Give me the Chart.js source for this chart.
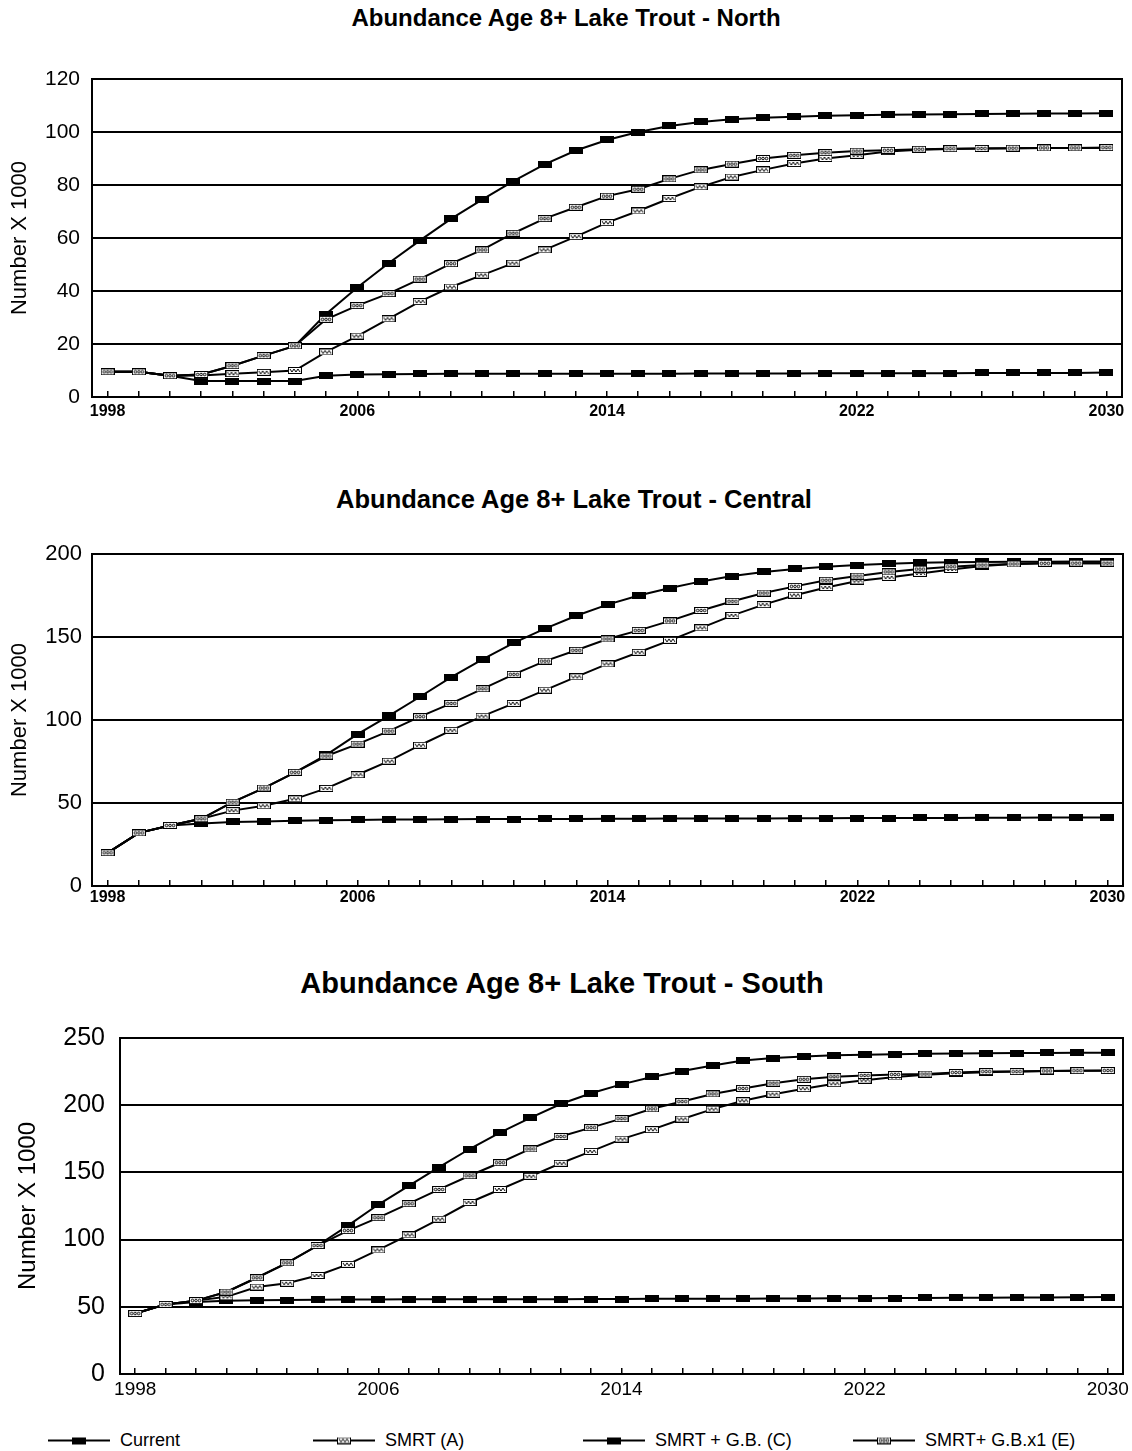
<!DOCTYPE html>
<html>
<head>
<meta charset="utf-8">
<title>Abundance Age 8+ Lake Trout</title>
<script src="https://cdn.jsdelivr.net/npm/chart.js@4.4.0/dist/chart.umd.min.js"></script>
<style>
  body { margin: 0; background: #fff; }
  #page { position: relative; width: 1132px; height: 1451px; background: #fff; overflow: hidden;
          font-family: "Liberation Sans", Arial, sans-serif; color: #000; }
  .panel { position: absolute; left: 0; }
  .panel-title { position: absolute; width: 1132px; text-align: center; font-weight: bold;
                 white-space: nowrap; line-height: 1; transform: translateY(-50%); }
  .legend-item { position: absolute; display: flex; align-items: center; font-size: 18px;
                 white-space: nowrap; transform: translateY(-50%); }
  .legend-item canvas { margin-right: 10px; }
</style>
</head>
<body>
<div id="page"></div>
<script>
// years on the x axis, labelled every 8 years
const years = [1998, 1999, 2000, 2001, 2002, 2003, 2004, 2005, 2006, 2007, 2008,
  2009, 2010, 2011, 2012, 2013, 2014, 2015, 2016, 2017, 2018, 2019, 2020,
  2021, 2022, 2023, 2024, 2025, 2026, 2027, 2028, 2029, 2030];

const seriesNames = ['Current', 'SMRT (A)', 'SMRT + G.B. (C)', 'SMRT+ G.B.x1 (E)'];

// North (number x 1000)
const northCurrent = [9.5, 9.5, 8, 6, 6, 6, 6, 8, 8.5, 8.6, 8.7, 8.8, 8.8, 8.8, 8.8, 8.8, 8.8,
  8.8, 8.8, 8.9, 8.9, 8.9, 8.9, 9, 9, 9, 9, 9, 9.1, 9.1, 9.1, 9.1, 9.2];
const northA = [9.5, 9.5, 8, 8.1, 8.8, 9.3, 10, 17, 23, 29.5, 36, 41.5, 46, 50.5, 55.5, 60.5, 65.8,
  70.2, 74.9, 79.3, 83, 85.7, 88.1, 90, 91.2, 92.6, 93.3, 93.6, 93.8, 93.9, 94, 94, 94.1];
const northC = [9.5, 9.5, 8, 8.5, 11.8, 15.6, 19.3, 31.3, 41.3, 50.5, 59, 67.2, 74.5, 81.5, 87.8, 93, 97,
  100, 102.3, 103.8, 104.8, 105.4, 105.8, 106.1, 106.3, 106.5, 106.6, 106.7, 106.8, 106.9, 107, 107, 107.1];
const northE = [9.5, 9.5, 8, 8.5, 11.8, 15.6, 19.3, 29.3, 34.5, 39, 44.5, 50.3, 55.5, 61.8, 67.3, 71.6, 75.8,
  78.4, 82.3, 85.7, 87.9, 90, 91.2, 92.2, 92.8, 93.1, 93.5, 93.7, 93.8, 93.9, 94, 94, 94.1];

// Central
const centralCurrent = [20, 32, 36.5, 37.7, 38.6, 38.9, 39.3, 39.6, 39.8, 40, 40.1, 40.2, 40.3, 40.3, 40.4, 40.4, 40.5,
  40.5, 40.6, 40.6, 40.7, 40.7, 40.8, 40.8, 40.9, 40.9, 41, 41, 41.1, 41.1, 41.2, 41.2, 41.3];
const centralA = [20, 32, 36.5, 40.5, 45.4, 48.3, 52.5, 58.8, 67, 75.2, 84.8, 93.8, 102.3, 110, 118, 126, 133.8,
  140.8, 148, 155.5, 163, 169.5, 175.2, 179.8, 183.7, 185.9, 188.3, 190.7, 192.7, 194, 194.4, 194.5, 194.5];
const centralC = [20, 32, 36.5, 40.5, 50.5, 59, 68.5, 79, 91.5, 102.5, 114, 125.8, 136.5, 146.5, 155, 162.8, 169.5,
  175, 179.5, 183.5, 186.7, 189.2, 191, 192.3, 193.3, 194.1, 194.7, 195, 195.2, 195.3, 195.4, 195.5, 195.5];
const centralE = [20, 32, 36.5, 40.5, 50.5, 59, 68.5, 78.3, 85.5, 93.3, 102, 110, 118.8, 127.5, 135.5, 142, 148.8,
  154, 159.7, 166, 171.5, 176.5, 180.5, 184.2, 186.7, 189.2, 190.9, 192.3, 193.3, 194, 194.4, 194.5, 194.5];

// South
const southCurrent = [45, 51.8, 53.5, 54.5, 54.8, 55, 55.2, 55.5, 55.5, 55.6, 55.6, 55.6, 55.6, 55.7, 55.7, 55.8, 55.8,
  55.9, 55.9, 56, 56, 56.1, 56.2, 56.3, 56.4, 56.5, 56.6, 56.7, 56.8, 56.9, 57, 57.1, 57.2];
const southA = [45, 51.8, 54.6, 57.4, 64.7, 67.5, 73.3, 81.6, 92.3, 103.5, 115.2, 127.6, 137.3, 147.1, 156.8, 165.6, 174.8,
  181.8, 189.7, 197.1, 203.3, 208.2, 212.3, 216, 218.6, 221, 222.7, 223.8, 224.5, 225, 225.4, 225.6, 225.7];
const southC = [45, 51.8, 54.6, 61, 71.6, 82.7, 95.6, 110.4, 126.1, 139.9, 153.9, 167.4, 179.6, 190.6, 200.9, 208.9, 215.5,
  221, 225.4, 229.6, 233.3, 235.1, 236.2, 237.1, 237.6, 238, 238.3, 238.5, 238.7, 238.8, 238.9, 239, 239.1];
const southE = [45, 51.8, 54.6, 61, 71.6, 82.7, 95.6, 106.7, 116.3, 126.7, 137.3, 147.5, 157.2, 167.5, 176.7, 183.3, 190,
  197.3, 202.7, 208.4, 212.5, 216.4, 219.3, 221.2, 222.1, 222.8, 223.2, 224.3, 225, 225, 225.5, 225.7, 225.8];

Chart.defaults.font.family = '"Liberation Sans", Arial, sans-serif';
Chart.defaults.color = '#000';

const Abundance = {
  markers: {},

  panels: [
    { name: 'North', titleX: 566, titleY: 18, titleSize: 24, top: 40, height: 400,
      area: { left: 92, top: 79, right: 1122, bottom: 397 }, max: 120, step: 20,
      yFont: 21, yPad: 12, yTitleSize: 22, yTitlePad: 7, xFont: 16, xBold: true, xPad: 11,
      series: [northCurrent, northA, northC, northE] },
    { name: 'Central', titleX: 574, titleY: 500, titleSize: 25.5, top: 520, height: 400,
      area: { left: 92, top: 554, right: 1129, bottom: 886 }, max: 200, step: 50,
      yFont: 22, yPad: 10, yTitleSize: 22, yTitlePad: 7, xFont: 16, xBold: true, xPad: 8,
      series: [centralCurrent, centralA, centralC, centralE] },
    { name: 'South', titleX: 562, titleY: 983, titleSize: 29, top: 1005, height: 400,
      area: { left: 120, top: 1038, right: 1131, bottom: 1374 }, max: 250, step: 50,
      yFont: 25, yPad: 15, yTitleSize: 24, yTitlePad: 14, xFont: 19, xBold: false, xPad: 10,
      series: [southCurrent, southA, southC, southE] }
  ],

  init() {
    this.markers = {
      solid: this.makeMarker('solid'),
      zig: this.makeMarker('zig'),
      loop: this.makeMarker('loop')
    };
    const page = document.getElementById('page');
    this.panels.forEach(p => this.renderPanel(page, p));
    this.renderLegend(page);
  },

  makeMarker(kind) {
    const c = document.createElement('canvas');
    c.width = 14; c.height = 7;
    const g = c.getContext('2d');
    g.fillStyle = '#000';
    g.fillRect(0, 0, 14, 7);
    if (kind === 'solid') return c;
    g.fillStyle = '#fff';
    g.fillRect(1, 1, 12, 5);
    g.strokeStyle = '#000';
    g.lineWidth = 1;
    g.beginPath();
    if (kind === 'zig') {
      for (let x = 2, up = true; x <= 12; x += 2, up = !up) {
        const y = up ? 2 : 5;
        x === 2 ? g.moveTo(x, y) : g.lineTo(x, y);
      }
    } else {
      for (let x = 3.5; x < 12; x += 3.5) {
        g.moveTo(x + 1.3, 3.5);
        g.arc(x, 3.5, 1.3, 0, Math.PI * 2);
      }
    }
    g.stroke();
    return c;
  },

  renderPanel(page, p) {
    const title = document.createElement('div');
    title.className = 'panel-title';
    title.style.left = (p.titleX - 566) + 'px';
    title.style.top = p.titleY + 'px';
    title.style.fontSize = p.titleSize + 'px';
    title.textContent = 'Abundance Age 8+ Lake Trout - ' + p.name;
    page.appendChild(title);

    const canvas = document.createElement('canvas');
    canvas.className = 'panel';
    canvas.style.top = p.top + 'px';
    canvas.width = 1132;
    canvas.height = p.height;
    page.appendChild(canvas);

    const styles = [
      { style: this.markers.solid, order: 3 },
      { style: this.markers.zig, order: 1 },
      { style: this.markers.solid, order: 2 },
      { style: this.markers.loop, order: 0 }
    ];

    // right side of the plot box
    const frame = {
      id: 'frame',
      beforeDatasetsDraw(chart) {
        const { ctx, chartArea: a } = chart;
        ctx.save();
        ctx.strokeStyle = '#000';
        ctx.lineWidth = 2;
        ctx.beginPath();
        ctx.moveTo(a.right, a.top - 1);
        ctx.lineTo(a.right, a.bottom + 1);
        ctx.stroke();
        ctx.restore();
      }
    };

    const xAxisHeight = p.top + p.height - p.area.bottom;

    new Chart(canvas, {
      type: 'line',
      data: {
        labels: years,
        datasets: p.series.map((data, i) => ({
          label: seriesNames[i],
          data: data,
          borderColor: '#000',
          borderWidth: 2,
          tension: 0,
          fill: false,
          pointStyle: styles[i].style,
          pointRadius: 7,
          order: styles[i].order
        }))
      },
      options: {
        responsive: false,
        animation: false,
        layout: { padding: { top: p.area.top - p.top, right: 1132 - p.area.right, left: 0, bottom: 0 } },
        plugins: { legend: { display: false }, tooltip: { enabled: false } },
        scales: {
          x: {
            type: 'category',
            offset: true,
            afterFit: s => { s.height = xAxisHeight; s.paddingLeft = 0; s.paddingRight = 0; },
            grid: { display: true, drawOnChartArea: false, drawTicks: true, tickLength: -6, color: '#000', lineWidth: 1.5 },
            border: { display: true, color: '#000', width: 2 },
            ticks: {
              autoSkip: false, maxRotation: 0, minRotation: 0, padding: p.xPad, color: '#000',
              font: { size: p.xFont, weight: p.xBold ? 'bold' : 'normal' },
              callback: (v, i) => i % 8 === 0 ? String(years[i]) : ''
            }
          },
          y: {
            min: 0,
            max: p.max,
            afterFit: s => { s.width = p.area.left; },
            grid: { color: '#000', lineWidth: 2, drawTicks: false },
            border: { display: true, color: '#000', width: 2 },
            ticks: { stepSize: p.step, padding: p.yPad, color: '#000', font: { size: p.yFont } },
            title: { display: true, text: 'Number X 1000', color: '#000',
                     font: { size: p.yTitleSize }, padding: { top: p.yTitlePad, bottom: 0 } }
          }
        }
      },
      plugins: [frame]
    });
  },

  renderLegend(page) {
    const items = [
      { left: 48, marker: this.markers.solid },
      { left: 313, marker: this.markers.zig },
      { left: 583, marker: this.markers.solid },
      { left: 853, marker: this.markers.loop }
    ];
    items.forEach((it, i) => {
      const el = document.createElement('div');
      el.className = 'legend-item';
      el.style.left = it.left + 'px';
      el.style.top = '1440px';
      const c = document.createElement('canvas');
      c.width = 62; c.height = 10;
      const g = c.getContext('2d');
      g.strokeStyle = '#000';
      g.lineWidth = 2;
      g.beginPath();
      g.moveTo(0, 5); g.lineTo(62, 5);
      g.stroke();
      g.drawImage(it.marker, 24, 1.5);
      el.appendChild(c);
      const span = document.createElement('span');
      span.textContent = seriesNames[i];
      el.appendChild(span);
      page.appendChild(el);
    });
  }
};

Abundance.init();
</script>
</body>
</html>
